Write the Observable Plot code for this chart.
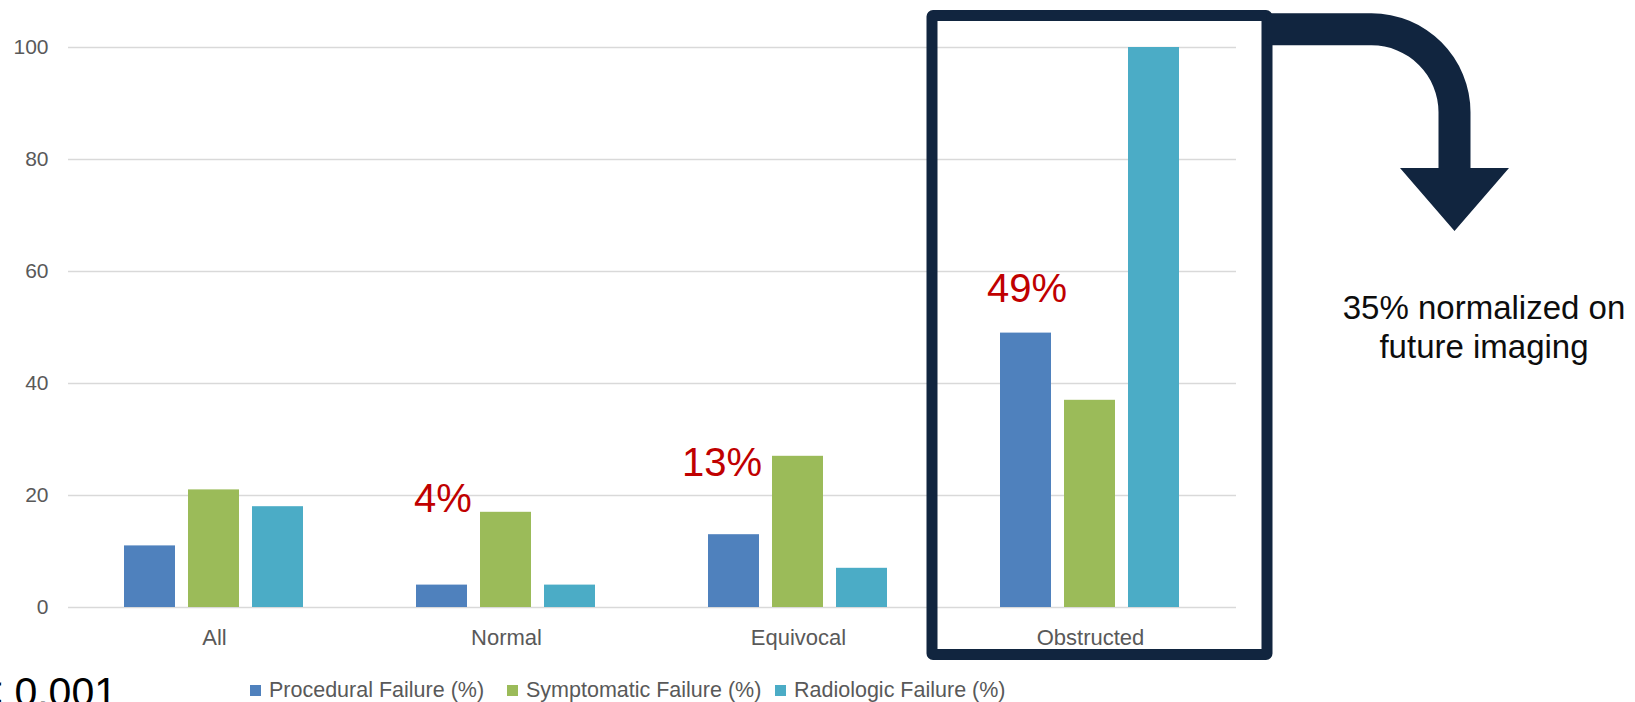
<!DOCTYPE html>
<html><head><meta charset="utf-8">
<script src="https://cdn.jsdelivr.net/npm/d3@7"></script>
<script src="https://cdn.jsdelivr.net/npm/@observablehq/plot@0.6"></script>
<style>
html,body{margin:0;padding:0;background:#fff;overflow:hidden;width:1635px;height:702px;}
#wrap{position:relative;width:1635px;height:702px;font-family:"Liberation Sans",Arial,sans-serif;overflow:hidden;}
#chart svg{display:block;}
.leg{position:absolute;top:678px;height:24px;display:flex;align-items:center;font-size:21.5px;line-height:24px;color:#595959;white-space:nowrap;}
.sw{width:11px;height:11px;margin-right:8px;flex:none;}
#pval{position:absolute;right:1518px;top:672px;font-size:41px;line-height:41px;color:#000;white-space:nowrap;}
</style></head><body><div id="wrap"><div id="chart"></div></div>
<script>
// ---- data ----
const categories = ["All", "Normal", "Equivocal", "Obstructed"];
const series = ["Procedural Failure (%)", "Symptomatic Failure (%)", "Radiologic Failure (%)"];
const procedural = [11, 4, 13, 49];
const symptomatic = [21, 17, 27, 37];
const radiologic = [18, 4, 7, 100];
const yTicks = [0, 20, 40, 60, 80, 100];
const seriesColors = ["#4F81BD", "#9BBB59", "#4BACC6"];
const calloutCategories = ["Normal", "Equivocal", "Obstructed"];
const calloutLevels = [19.3, 25.8, 56.8];
const noteLines = ["35% normalized on", "future imaging"];
const pValueText = "p < 0.001";

// ---- table ----
const values = [procedural, symptomatic, radiologic];
const rows = [];
categories.forEach((c, i) => series.forEach((s, j) => rows.push({category: c, series: s, value: values[j][i]})));
const callouts = calloutCategories.map((c, i) => ({
  category: c, series: series[0], level: calloutLevels[i],
  text: procedural[categories.indexOf(c)] + "%"
}));

const font = '"Liberation Sans", Arial, sans-serif';
const calloutStyle = {fx: "category", x: "series", y: "level", text: "text", fill: "#C00000", fontSize: 40, lineAnchor: "middle"};
const plot = Plot.plot({
  width: 1635, height: 665,
  marginLeft: 67, marginRight: 397.75, marginTop: 47, marginBottom: 58,
  style: {fontFamily: font, fontSize: "21px", color: "#595959", background: "white", overflow: "visible"},
  fx: {domain: categories, padding: 0, label: null, axis: null},
  x: {domain: series, paddingInner: 0.2, paddingOuter: 0.85, axis: null},
  y: {domain: [0, 100], axis: null},
  color: {domain: series, range: seriesColors},
  marks: [
    Plot.gridY(yTicks, {stroke: "#d9d9d9", strokeOpacity: 1, strokeWidth: 1.5}),
    Plot.barY(rows, {fx: "category", x: "series", y: "value", fill: "series"}),
    Plot.axisY(yTicks, {tickSize: 0, tickPadding: 20, fontSize: 21, label: null}),
    Plot.axisFx({anchor: "bottom", tickSize: 0, tickPadding: 22, fontSize: 22, label: null}),
    Plot.text(callouts.filter(d => d.category !== "Equivocal"), {...calloutStyle, dx: 1}),
    Plot.text(callouts.filter(d => d.category === "Equivocal"), {...calloutStyle, dx: -12})
  ]
});
document.getElementById("chart").appendChild(plot);

// ---- annotations: highlight box + arrow + note ----
const svg = d3.select(plot);
const fxs = plot.scale("fx");
const bandLeft = fxs.apply("Obstructed");
const bx0 = bandLeft - 17.5, bx1 = bandLeft + fxs.bandwidth + 36.5;
const bTop = 10, bBottom = 660, sw = 11, navy = "#11253F";
svg.append("rect")
  .attr("x", bx0 + sw / 2).attr("y", bTop + sw / 2)
  .attr("width", bx1 - bx0 - sw).attr("height", bBottom - bTop - sw)
  .attr("fill", "none").attr("stroke", navy).attr("stroke-width", sw)
  .attr("stroke-linejoin", "round").attr("rx", 1);

const cx = bx1 + 99, cy = 112.3, ro = 99, ri = 67;
const shaftL = cx + ri, shaftR = cx + ro, shaftMid = (shaftL + shaftR) / 2;
const headY = 168, tipY = 231, headHalf = 54.5;
const path = [
  `M${bx1 - 6},${cy - ro}`,
  `H${cx}`,
  `A${ro},${ro} 0 0 1 ${shaftR},${cy}`,
  `V${headY}`,
  `H${shaftMid + headHalf}`,
  `L${shaftMid},${tipY}`,
  `L${shaftMid - headHalf},${headY}`,
  `H${shaftL}`,
  `V${cy}`,
  `A${ri},${ri} 0 0 0 ${cx},${cy - ri}`,
  `H${bx1 - 6}`, "Z"
].join(" ");
svg.append("path").attr("d", path).attr("fill", navy);

const note = svg.append("text").attr("text-anchor", "middle")
  .attr("font-family", font).attr("font-size", 33).attr("fill", "#0d0d0d");
noteLines.forEach((t, i) => note.append("tspan").attr("x", 1484).attr("y", 319 + i * 38.5).text(t));

// ---- legend ----
const wrap = document.getElementById("wrap");
const legendLeft = [250, 507, 775];
series.forEach((s, i) => {
  const d = document.createElement("div");
  d.className = "leg";
  d.style.left = legendLeft[i] + "px";
  d.innerHTML = `<span class="sw" style="background:${seriesColors[i]}"></span><span>${s}</span>`;
  wrap.appendChild(d);
});
const p = document.createElement("div");
p.id = "pval";
p.textContent = pValueText;
wrap.appendChild(p);
</script>
</body></html>
